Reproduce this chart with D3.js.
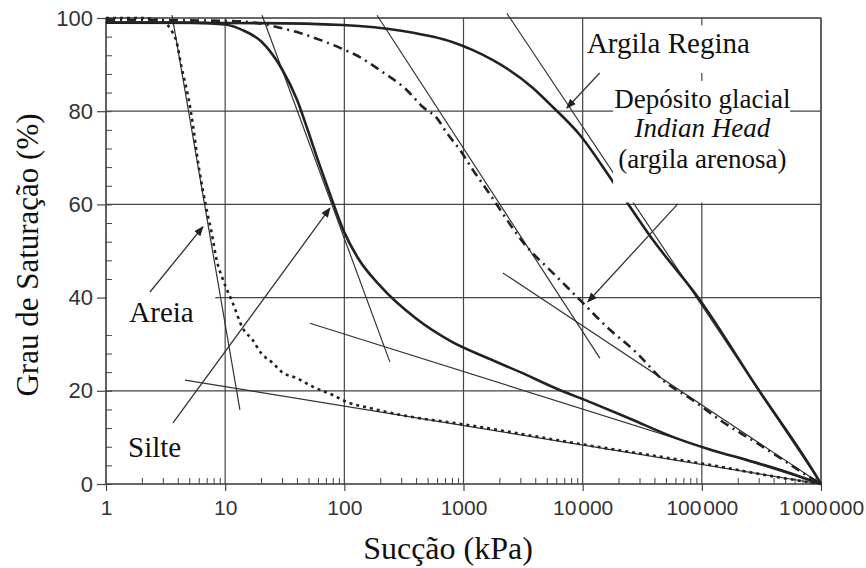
<!DOCTYPE html>
<html>
<head>
<meta charset="utf-8">
<script src="https://cdn.jsdelivr.net/npm/d3@7"></script>
<style>
  body { margin: 0; background: #fff; }
</style>
</head>
<body>
<div id="chart"></div>
<script>
// ---------------- DATA ----------------
// [suction kPa, degree of saturation %]
const areia = [[1,100],[2,100],[3,99.2],[3.6,97],[3.9,95],[4.3,89.5],[4.9,83],[5.4,76.6],[5.8,70.6],[6.5,63],
  [7.2,57.3],[7.7,53.9],[8.5,48],[9.6,43.8],[11.6,38.8],[14,33.5],[17,30.9],[20,28.1],[25,26],[30,24],
  [40,22.7],[55,20.8],[80,19.1],[105,17.6],[164,16.3],[300,14.8],[1000,12.8],[10000,8.5],[100000,4.4],
  [500000,1.2],[1000000,0]];
const silte = [[1,99],[5,99],[10,98.6],[14,97.4],[20,95],[30,89],[40,82.5],[50,75.5],[60,69.5],[75,62.5],
  [100,54],[130,48.5],[200,42.5],[400,35.5],[800,30.5],[1500,27.3],[3000,24],[6000,20.5],[12000,17.4],
  [25000,14],[60000,9.9],[120000,7.3],[250000,5],[500000,2.7],[1000000,0]];
const indianHead = [[1,99.6],[10,99.4],[20,98.8],[28.8,97.9],[42.4,96.8],[62.4,95.3],[91.8,93.6],[135,91.6],
  [199,88.8],[335,84.5],[456,80.9],[598,78.5],[726,75.3],[933,71.7],[1200,67.4],[1571,63.1],[3400,50.9],
  [5620,45.3],[9480,39.5],[15960,33.7],[28500,28.1],[47100,22.3],[84000,18],[150000,13.3],[289000,8.8],
  [479000,5.2],[703000,2.4],[1000000,0]];
const argilaRegina = [[1,99],[20,98.9],[97,98.5],[310,97.2],[815,94.8],[1200,93.1],[3820,85],[5620,80.9],
  [9480,74.9],[17600,65.2],[38800,52.4],[96200,39.5],[289000,20.8],[923000,1.5],[1000000,0]];

// construction lines (tangents and residual lines)
const constructionLines = [
  [[3.58,100.6],[13.3,15.9]],
  [[4.6,22.3],[1000000,0]],
  [[20.4,100.6],[241,26.2]],
  [[51.4,34.5],[1000000,0]],
  [[188,100.6],[13940,27]],
  [[2140,45.3],[1000000,0]],
  [[2313,101],[1000000,0]]
];

// arrows: [from, to]
const arrows = [
  [[13900,88.2],[7370,80.7]],
  [[62900,60.1],[11060,39.1]],
  [[2.34,41.2],[6.51,55.2]],
  [[3.65,13.1],[75.7,59.2]]
];

const xTicks = [1,10,100,1000,10000,100000,1000000];
const xTickLabels = ["1","10","100","1000","10\u200A000","100\u200A000","1\u200A000\u200A000"];
const yTicks = [0,20,40,60,80,100];

// ---------------- LAYOUT ----------------
const width = 866, height = 568;
const x = d3.scaleLog().domain([1,1e6]).range([106,821]);
const y = d3.scaleLinear().domain([0,100]).range([484,18]);

const svg = d3.select("#chart").append("svg")
  .attr("width", width).attr("height", height)
  .style("font-family", "'Liberation Serif','Times New Roman',serif");

svg.append("defs").append("marker")
  .attr("id","arrow").attr("viewBox","0 0 10 10")
  .attr("refX",9).attr("refY",5)
  .attr("markerWidth",10).attr("markerHeight",10)
  .attr("markerUnits","userSpaceOnUse")
  .attr("orient","auto")
  .append("path").attr("d","M0,1 L10,5 L0,9 Z").attr("fill","#222");

// ---------------- GRID ----------------
const grid = svg.append("g").attr("stroke","#444").attr("stroke-width",1.2);
xTicks.forEach(t => grid.append("line")
  .attr("x1",x(t)).attr("x2",x(t)).attr("y1",y(0)).attr("y2",y(100)));
yTicks.forEach(t => grid.append("line")
  .attr("x1",x(1)).attr("x2",x(1e6)).attr("y1",y(t)).attr("y2",y(t)));

// ---------------- AXES ----------------
const minorX = [];
for (let p = 0; p < 6; p++) for (let k = 2; k <= 9; k++) minorX.push(k * Math.pow(10,p));

svg.append("g")
  .attr("transform",`translate(0,${y(0)})`)
  .call(d3.axisBottom(x).tickValues(minorX).tickSize(-6).tickFormat(""))
  .call(g => g.select(".domain").remove())
  .selectAll("line").attr("stroke","#444");

svg.append("g")
  .attr("transform",`translate(${x(1)},0)`)
  .call(d3.axisLeft(y).tickValues(d3.range(0,101,4)).tickSize(-6).tickFormat(""))
  .call(g => g.select(".domain").remove())
  .selectAll("line").attr("stroke","#444");

const tickFont = "'Liberation Sans',Arial,sans-serif";

svg.append("g")
  .attr("transform",`translate(0,${y(0)})`)
  .call(d3.axisBottom(x).tickValues(xTicks).tickSize(7).tickPadding(9)
    .tickFormat((d,i) => xTickLabels[i]))
  .call(g => g.select(".domain").remove())
  .call(g => g.selectAll("line").attr("stroke","#444").attr("stroke-width",1.2))
  .call(g => g.selectAll("text")
    .style("font-family",tickFont)
    .style("font-size","21px").attr("fill","#333"));

svg.append("g")
  .attr("transform",`translate(${x(1)},0)`)
  .call(d3.axisLeft(y).tickValues(yTicks).tickSize(9).tickPadding(4))
  .call(g => g.select(".domain").remove())
  .call(g => g.selectAll("line").attr("stroke","#444").attr("stroke-width",1.2))
  .call(g => g.selectAll("text")
    .style("font-family",tickFont)
    .style("font-size","22px").attr("fill","#333"));

svg.append("rect")
  .attr("x",x(1)).attr("y",y(100))
  .attr("width",x(1e6)-x(1)).attr("height",y(0)-y(100))
  .attr("fill","none").attr("stroke","#444").attr("stroke-width",1.2);

// ---------------- LINES ----------------
const line = d3.line().x(d => x(d[0])).y(d => y(d[1])).curve(d3.curveMonotoneX);

svg.append("g").selectAll("path")
  .data(constructionLines).enter().append("path")
  .attr("d", d3.line().x(d => x(d[0])).y(d => y(d[1])))
  .attr("stroke","#333").attr("stroke-width",1.2).attr("fill","none");

svg.append("path").attr("d", line(areia))
  .attr("fill","none").attr("stroke","#222").attr("stroke-width",2.6)
  .attr("stroke-dasharray","3,4");

svg.append("path").attr("d", line(silte))
  .attr("fill","none").attr("stroke","#222").attr("stroke-width",2.6);

svg.append("path").attr("d", line(indianHead))
  .attr("fill","none").attr("stroke","#222").attr("stroke-width",2.6)
  .attr("stroke-dasharray","9,5,2,5");

svg.append("path").attr("d", line(argilaRegina))
  .attr("fill","none").attr("stroke","#222").attr("stroke-width",2.6);

// ---------------- LABELS ----------------
// white boxes behind labels
svg.append("rect").attr("x",x(11500)).attr("y",y(98.4))
  .attr("width",x(300000)-x(11500)).attr("height",y(88.2)-y(98.4)).attr("fill","#fff");
svg.append("rect").attr("x",x(18000)).attr("y",y(86.5))
  .attr("width",x(550000)-x(18000)).attr("height",y(60.4)-y(86.5)).attr("fill","#fff");
svg.append("rect").attr("x",x(1)+1).attr("y",y(40.6))
  .attr("width",x(8.1)-x(1)).attr("height",y(32)-y(40.6)).attr("fill","#fff");

svg.selectAll(".arrow")
  .data(arrows).enter().append("line")
  .attr("class","arrow")
  .attr("x1",d => x(d[0][0])).attr("y1",d => y(d[0][1]))
  .attr("x2",d => x(d[1][0])).attr("y2",d => y(d[1][1]))
  .attr("stroke","#333").attr("stroke-width",1.3)
  .attr("marker-end","url(#arrow)");

const labels = svg.append("g").style("font-size","29px").attr("fill","#111");
labels.append("text").attr("x",x(10850)).attr("y",y(92.5)).text("Argila Regina");
labels.append("text").attr("x",x(101000)).attr("y",y(80.7)).attr("text-anchor","middle")
  .style("font-size","27px").text("Depósito glacial");
labels.append("text").attr("x",x(101000)).attr("y",y(74.5)).attr("text-anchor","middle")
  .style("font-size","27px").style("font-style","italic").text("Indian Head");
labels.append("text").attr("x",x(101000)).attr("y",y(67.8)).attr("text-anchor","middle")
  .style("font-size","27px").text("(argila arenosa)");
labels.append("text").attr("x",x(1.57)).attr("y",y(34.7)).text("Areia");
labels.append("text").attr("x",x(1.53)).attr("y",y(5.7)).text("Silte");

// ---------------- AXIS TITLES ----------------
svg.append("text")
  .attr("x",448).attr("y",559)
  .attr("text-anchor","middle")
  .style("font-size","32px").attr("fill","#111")
  .text("Sucção (kPa)");

svg.append("text")
  .attr("transform","translate(38,255) rotate(-90)")
  .attr("text-anchor","middle")
  .style("font-size","31px").attr("fill","#111")
  .text("Grau de Saturação (%)");
</script>
</body>
</html>
